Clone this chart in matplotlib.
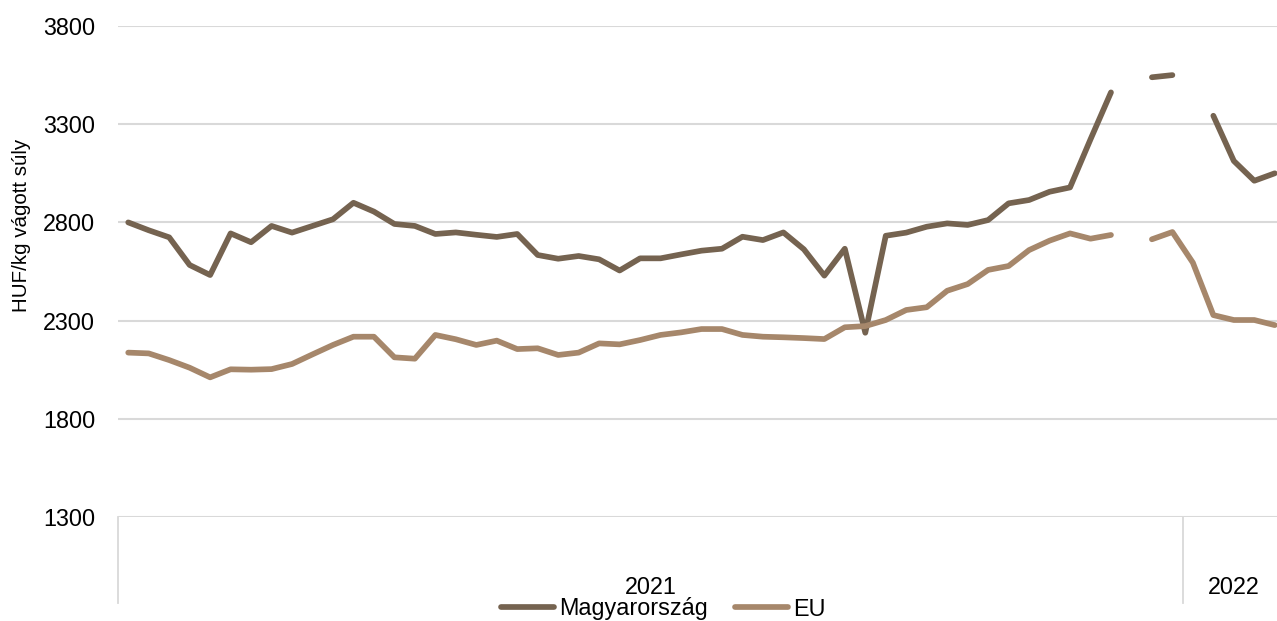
import numpy as np
import matplotlib
matplotlib.use("Agg")
import matplotlib.pyplot as plt
from matplotlib.transforms import blended_transform_factory

plt.rcParams['font.family'] = ['Liberation Sans', 'DejaVu Sans']

nan = np.nan

# weekly prices, HUF/kg carcass weight
years = ["2021", "2022"]
weeks_per_year = [52, 5]

magyarorszag = [2800, 2760, 2724, 2583, 2532, 2744, 2699, 2782, 2748, 2782,
                2816, 2900, 2855, 2792, 2782, 2741, 2749, 2737, 2726, 2741,
                2634, 2615, 2629, 2612, 2555, 2617, 2617, 2637, 2656, 2666,
                2727, 2710, 2749, 2663, 2529, 2666, 2238, 2732, 2748, 2778,
                2795, 2787, 2812, 2897, 2914, 2956, 2978, 3223, 3462, nan,
                3539, 3550, nan, 3343, 3113, 3012, 3050]

eu = [2137, 2133, 2099, 2060, 2011, 2052, 2050, 2053, 2079, 2128,
      2176, 2218, 2218, 2113, 2106, 2227, 2205, 2176, 2198, 2155,
      2159, 2125, 2137, 2184, 2179, 2201, 2227, 2240, 2257, 2257,
      2227, 2218, 2215, 2211, 2206, 2266, 2272, 2303, 2354, 2368,
      2452, 2486, 2558, 2578, 2659, 2707, 2744, 2717, 2736, nan,
      2714, 2751, 2595, 2328, 2303, 2303, 2277]

yticks = [1300, 1800, 2300, 2800, 3300, 3800]

W, H = 1277, 621
fig = plt.figure(figsize=(W / 100, H / 100), dpi=100)
left, right, top, bottom = 118, 1285, 26, 517
ax = fig.add_axes([left / W, 1 - bottom / H, (right - left) / W, (bottom - top) / H])

x = np.arange(len(magyarorszag))
ax.plot(x, magyarorszag, color="#756350", lw=4.1, solid_capstyle="round",
        label="Magyarország")
ax.plot(x, eu, color="#A6876B", lw=4.1, solid_capstyle="round", label="EU")

ax.set_xlim(-0.5, len(x) - 0.5)
ax.set_ylim(yticks[0], yticks[-1])
ax.set_yticks(yticks)
ax.set_xticks([])
ax.tick_params(axis="y", length=0, pad=16.5, labelsize=16.8, colors="#000000")
ax.grid(axis="y", color="#D9D9D9", lw=1.5)
ax.set_axisbelow(True)
for s in ax.spines.values():
    s.set_visible(False)

# year group axis below the plot
tr = blended_transform_factory(ax.transData, fig.transFigure)
y_top = 1 - bottom / H
y_bot = 1 - 603 / H
edges = np.concatenate([[0], np.cumsum(weeks_per_year)]) - 0.5
for e in edges:
    ax.plot([e, e], [y_top, y_bot], transform=tr, color="#D9D9D9", lw=1.3,
            clip_on=False)
for i, yr in enumerate(years):
    c = (edges[i] + edges[i + 1]) / 2
    ax.text(c, 1 - 588 / H, yr, transform=tr, ha="center", va="center",
            fontsize=16.8)

fig.text(22 / W, 1 - 225 / H, "HUF/kg vágott súly", rotation=90,
         ha="center", va="center", fontsize=14.8)

fig.legend(loc="center", bbox_to_anchor=(663 / W, 1 - 609 / H), ncol=2,
           frameon=False, fontsize=16.8, handlelength=2.3, handletextpad=0.2,
           columnspacing=1.15, borderpad=0, borderaxespad=0)

fig.savefig("out.png", dpi=100)
